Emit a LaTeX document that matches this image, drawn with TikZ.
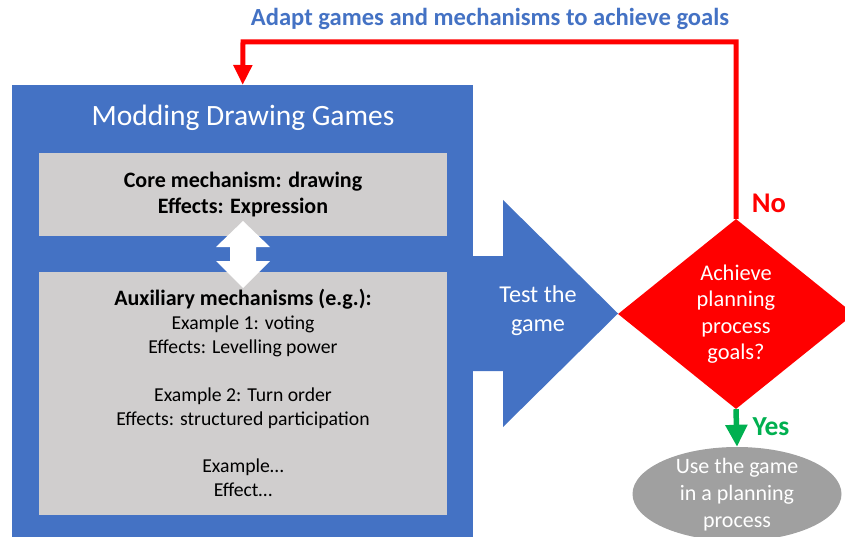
\documentclass[tikz,border=0pt]{standalone}
\usepackage{fontspec}
\setmainfont{Carlito}
\usetikzlibrary{shapes.geometric,arrows.meta}
\definecolor{bblue}{HTML}{4472C4}
\definecolor{lgray}{HTML}{D0CECE}
\definecolor{dgray}{HTML}{A0A0A0}
\definecolor{rred}{HTML}{FF0000}
\definecolor{ggreen}{HTML}{00B050}
\tikzset{
  graybox/.style={fill=lgray, draw=none, minimum width=408pt, inner sep=0pt, align=center},
  whitetxt/.style={text=white, align=center, inner sep=0pt},
  redline/.style={draw=rred, line width=5pt, -{Triangle[length=20pt,width=18pt]}},
  greenline/.style={draw=ggreen, line width=5.5pt, -{Triangle[length=22pt,width=21pt]}},
}
\begin{document}
\begin{tikzpicture}[x=1pt,y=-1pt]
\useasboundingbox (0,0) rectangle (845,537);
\clip (0,0) rectangle (845,537);
% outer blue box
\node[fill=bblue, minimum width=461pt, minimum height=470pt, anchor=north west, inner sep=0pt] (outer) at (12,85) {};
\node[whitetxt, font=\fontsize{29.5}{34}\selectfont] (title) at (243,118) {Modding Drawing Games};
% gray boxes
\node[graybox, minimum height=83pt, font=\bfseries\fontsize{22}{26}\selectfont] (core) at (243,194.5) {Core mechanism: drawing\\Effects: Expression};
\node[graybox, minimum height=243pt, font=\fontsize{19.7}{24}\selectfont] (aux) at (243,393)
  {{\bfseries\fontsize{22}{24}\selectfont Auxiliary mechanisms (e.g.):}\\Example 1: voting\\Effects: Levelling power\\[23.5pt]Example 2: Turn order\\Effects: structured participation\\[23.5pt]Example\dots\\Effect\dots};
% white double arrow
\fill[white] (243,221) -- (270,247) -- (256,247) -- (256,261) -- (270,261) -- (243,288)
  -- (216,261) -- (230,261) -- (230,247) -- (216,247) -- cycle;
% blue block arrow
\fill[bblue] (472,256) -- (503,256) -- (503,200) -- (618,313.5) -- (503,427) -- (503,371) -- (472,371) -- cycle;
\node[whitetxt, font=\fontsize{24.2}{29}\selectfont] (test) at (538,311) {Test the\\game};
% decision diamond
\node[diamond, fill=rred, minimum width=236pt, minimum height=190pt, inner sep=0pt, whitetxt, font=\fontsize{22.4}{26.5}\selectfont] (dec) at (736,314) {Achieve\\planning\\process\\goals?};
% ellipse
\node[ellipse, fill=dgray, minimum width=209pt, minimum height=94pt, inner sep=0pt] (use) at (737,494) {};
\node[whitetxt, font=\fontsize{22}{27}\selectfont] (usetxt) at (737,495) {Use the game\\in a planning\\process};
% feedback connector
\coordinate (turn) at (243,42);
\draw[redline] (dec.north) |- (turn) -- (outer.north);
\node[font=\bfseries\fontsize{24.6}{28}\selectfont, text=bblue, inner sep=0pt] (adapt) at (490,19) {Adapt games and mechanisms to achieve goals};
\node[font=\bfseries\fontsize{28.5}{32}\selectfont, text=rred, inner sep=0pt] (no) at (769,203) {No};
% yes connector
\draw[greenline] (dec.south) -- (use.north);
\node[font=\bfseries\fontsize{27.5}{32}\selectfont, text=ggreen, inner sep=0pt] (yes) at (771,427) {Yes};
\end{tikzpicture}
\end{document}
